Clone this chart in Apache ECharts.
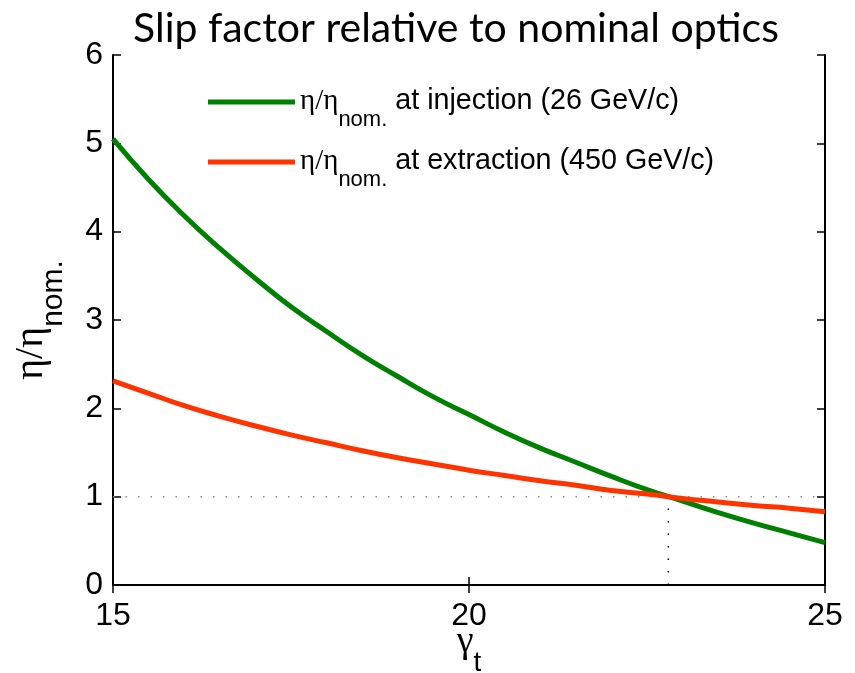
<!DOCTYPE html>
<html><head><meta charset="utf-8">
<script src="https://cdn.jsdelivr.net/npm/echarts@6/dist/echarts.min.js"></script>
<style>html,body{margin:0;padding:0;background:#fff}#c{width:855px;height:673px}</style>
</head><body><div id="c"></div>
<script>
const gammaT = [15,15.5,16,16.5,17,17.5,18,18.5,19,19.5,20,20.5,21,21.5,22,22.5,23,23.5,24,24.5,25];
const injection = [5.05,4.59,4.18,3.81,3.47,3.15,2.87,2.60,2.36,2.13,1.93,1.73,1.55,1.39,1.23,1.08,0.95,0.82,0.70,0.59,0.48];
const extraction = [2.31,2.17,2.03,1.91,1.80,1.70,1.61,1.52,1.44,1.37,1.30,1.24,1.18,1.13,1.07,1.03,0.98,0.94,0.90,0.87,0.83];
const unityX = [15,25];
const unityY = [1,1];
const nominalX = [22.8,22.8];
const nominalY = [0,1];
const xTicks = [15,20,25];
const yTicks = [0,1,2,3,4,5,6];
const seriesNames = ['injection','extraction'];
const legendTexts = {injection:' at injection (26 GeV/c)', extraction:' at extraction (450 GeV/c)'};

const chart = echarts.init(document.getElementById('c'), null, {renderer:'canvas'});
const lab = {fontFamily:'Liberation Sans', fontSize:32, color:'#000'};
const axisLine = {show:true, lineStyle:{color:'#000', width:2}};
const tick = {show:true, inside:true, length:8, lineStyle:{color:'#000', width:1.5}};
chart.setOption({
  animation:false,
  title:{text:'Slip factor relative to nominal optics', left:451, textAlign:'center', top:3,
    textStyle:{fontFamily:'Lato', fontWeight:'normal', fontSize:41, color:'#000'}},
  grid:{left:113, top:55, right:30, bottom:88, containLabel:false, outerBoundsMode:'none'},
  legend:{orient:'vertical', left:203, top:82, itemWidth:87, itemHeight:5, itemGap:10, icon:'rect',
    data:seriesNames,
    formatter:n=>'{a|η/η}{b|nom.}{c|'+legendTexts[n]+'}',
    textStyle:{rich:{
      a:{fontFamily:'Liberation Serif', fontSize:29, color:'#000', verticalAlign:'top', lineHeight:30},
      b:{fontFamily:'Liberation Sans', fontSize:22, color:'#000', verticalAlign:'top', lineHeight:22, padding:[22,0,6,0]},
      c:{fontFamily:'Liberation Sans', fontSize:28.7, color:'#000', verticalAlign:'top', lineHeight:30}
    }}},
  xAxis:[
    {type:'value', min:15, max:25, interval:5, axisLine, axisTick:tick, splitLine:{show:false},
     axisLabel:{...lab, margin:15},
     name:'{a|γ}{b|t}', nameLocation:'middle', nameGap:38, nameMoveOverlap:false,
     nameTextStyle:{rich:{
       a:{fontFamily:'Liberation Serif', fontSize:38, color:'#000', verticalAlign:'top', lineHeight:40},
       b:{fontFamily:'Liberation Sans', fontSize:28, color:'#000', verticalAlign:'top', lineHeight:28, padding:[26,0,0,0]}}}},
    {type:'value', position:'top', min:15, max:25, interval:5, axisLine, axisTick:tick, axisLabel:{show:false}, splitLine:{show:false}}
  ],
  yAxis:[
    {type:'value', min:0, max:6, interval:1, axisLine, axisTick:tick, splitLine:{show:false},
     axisLabel:{...lab, margin:10},
     name:'{a|η/η}{b|nom.}', nameLocation:'middle', nameGap:62, nameRotate:90, nameMoveOverlap:false,
     nameTextStyle:{rich:{
       a:{fontFamily:'Liberation Serif', fontSize:40, color:'#000', verticalAlign:'top', lineHeight:40},
       b:{fontFamily:'Liberation Sans', fontSize:30, color:'#000', verticalAlign:'top', lineHeight:30, padding:[28,0,0,0]}}}},
    {type:'value', position:'right', min:0, max:6, interval:1, axisLine, axisTick:tick, axisLabel:{show:false}, splitLine:{show:false}}
  ],
  series:[
    {name:'unity', type:'line', data:unityX.map((x,i)=>[x,unityY[i]]), showSymbol:false, symbol:'none', silent:true,
     lineStyle:{color:'#888', width:1.5, type:[1.5,11]}, z:1},
    {name:'nominal', type:'line', data:nominalX.map((x,i)=>[x,nominalY[i]]), showSymbol:false, symbol:'none', silent:true,
     lineStyle:{color:'#000', width:1.5, type:[1.5,11]}, z:1},
    {name:'injection', type:'line', smooth:true, symbol:'none', data:gammaT.map((x,i)=>[x,injection[i]]),
     itemStyle:{color:'#008000'}, lineStyle:{color:'#008000', width:5}, z:3},
    {name:'extraction', type:'line', smooth:true, symbol:'none', data:gammaT.map((x,i)=>[x,extraction[i]]),
     itemStyle:{color:'#ff3300'}, lineStyle:{color:'#ff3300', width:5}, z:4}
  ]
});
</script></body></html>
